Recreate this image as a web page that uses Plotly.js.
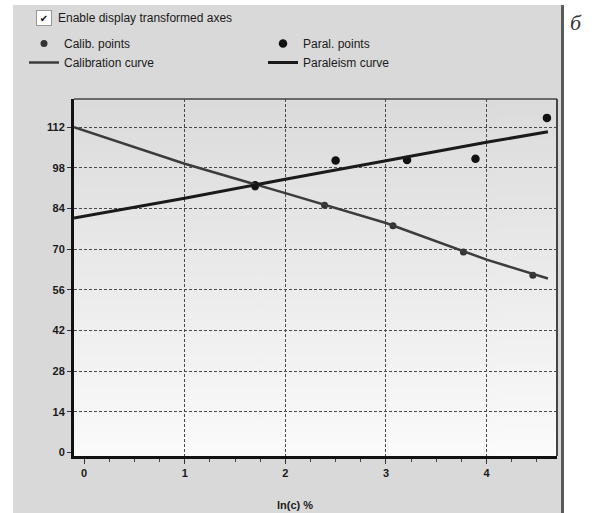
<!DOCTYPE html>
<html><head><meta charset="utf-8">
<script src="https://cdn.plot.ly/plotly-3.0.1.min.js"></script>
<style>html,body{margin:0;padding:0;background:#fff}#chart{width:604px;height:513px}</style>
</head><body><div id="chart"></div>
<script>
// ---- data ----
const calibX = [1.70, 2.39, 3.07, 3.77, 4.46];
const calibY = [91.4, 85.1, 78.1, 69.0, 61.0];
const paralX = [1.70, 2.50, 3.21, 3.89, 4.60];
const paralY = [92.0, 100.5, 100.7, 101.1, 115.2];
const calibCurveX = [-0.1, 1, 2, 3, 4, 4.61];
const calibCurveY = [112, 99.4, 89.3, 79.0, 66.4, 59.9];
const paralCurveX = [-0.1, 1, 2, 3, 4, 4.61];
const paralCurveY = [80.7, 87.5, 94.1, 100.5, 106.8, 110.4];
const xTicks = [0, 1, 2, 3, 4];
const yTicks = [0, 14, 28, 42, 56, 70, 84, 98, 112];
const xGrid = [1, 2, 3, 4];
const yGrid = [14, 28, 42, 56, 70, 84, 98, 112];
const seriesNames = ['Calib. points', 'Paral. points', 'Calibration curve', 'Paraleism curve'];
const checkboxLabel = 'Enable display transformed axes';
const xTitle = 'ln(c) %';
const panelLetter = 'б';

// gradient for plot background
const cv = document.createElement('canvas');
cv.width = 4; cv.height = 256;
const ctx = cv.getContext('2d');
const grad = ctx.createLinearGradient(0, 0, 0, 256);
grad.addColorStop(0, '#dbdbdb');
grad.addColorStop(1, '#fbfbfb');
ctx.fillStyle = grad; ctx.fillRect(0, 0, 4, 256);
const gradSrc = cv.toDataURL();

const F = 'Liberation Sans, Arial, sans-serif';
const PL = 74, PR = 557, PT = 99, PB = 456, W = 604, H = 513;
const pw = PR - PL, ph = PB - PT;
const px = v => (v - PL) / pw;
const py = v => (PB - v) / ph;

const traces = [
  {x: calibX, y: calibY, mode: 'markers', name: seriesNames[0], type: 'scatter',
   marker: {color: '#333', size: 7}},
  {x: paralX, y: paralY, mode: 'markers', name: seriesNames[1], type: 'scatter',
   marker: {color: '#111', size: 8.5}},
  {x: calibCurveX, y: calibCurveY, mode: 'lines', name: seriesNames[2], type: 'scatter',
   line: {color: '#3c3c3c', width: 2.5}},
  {x: paralCurveX, y: paralCurveY, mode: 'lines', name: seriesNames[3], type: 'scatter',
   line: {color: '#1a1a1a', width: 3}},
  {x: [], y: [], xaxis: 'x2', yaxis: 'y2', showlegend: false, hoverinfo: 'skip', type: 'scatter'}
];

const layout = {
  width: W, height: H,
  margin: {l: PL, r: W - PR, t: PT, b: H - PB, pad: 0},
  paper_bgcolor: '#d9d9d9',
  plot_bgcolor: 'rgba(0,0,0,0)',
  showlegend: true,
  legend: {orientation: 'h', x: px(24), xanchor: 'left', y: py(29), yanchor: 'top',
    entrywidth: 194, bgcolor: 'rgba(0,0,0,0)', traceorder: 'normal',
    font: {family: F, size: 12, color: '#1a1a1a'}},
  xaxis: {range: [-0.1, 4.70], tickvals: xTicks, ticktext: xTicks.map(String),
    showgrid: false, zeroline: false, showline: true, linecolor: '#111', linewidth: 3,
    ticks: 'outside', ticklen: 5, tickwidth: 1, tickcolor: '#333',
    minor: {dtick: 0.25, tick0: 0, ticks: 'outside', ticklen: 3, tickcolor: '#444', showgrid: false},
    tickfont: {family: F, size: 11, color: '#1a1a1a', weight: 700}},
  yaxis: {range: [-1.2, 121.7], tickvals: yTicks, ticktext: yTicks.map(String),
    showgrid: false, zeroline: false, showline: true, linecolor: '#111', linewidth: 3,
    ticks: 'outside', ticklen: 4, tickwidth: 1, tickcolor: '#333',
    tickfont: {family: F, size: 11, color: '#1a1a1a', weight: 700}},
  xaxis2: {overlaying: 'x', anchor: 'y2', range: [-0.1, 4.70], tickvals: xGrid,
    showgrid: true, gridcolor: '#4a4a4a', gridwidth: 1, griddash: '3px,2px',
    showticklabels: false, ticks: '', showline: false, zeroline: false},
  yaxis2: {overlaying: 'y', anchor: 'x2', range: [-1.2, 121.7], tickvals: yGrid,
    showgrid: true, gridcolor: '#4a4a4a', gridwidth: 1, griddash: '3px,2px',
    showticklabels: false, ticks: '', showline: false, zeroline: false},
  images: [{source: gradSrc, xref: 'paper', yref: 'paper', x: 0, y: 1, sizex: 1, sizey: 1,
    sizing: 'stretch', xanchor: 'left', yanchor: 'top', layer: 'below'}],
  shapes: [
    {type: 'rect', xref: 'paper', yref: 'paper', x0: px(-5), x1: px(13), y0: py(520), y1: py(-5), fillcolor: '#fff', line: {width: 0}, layer: 'below'},
    {type: 'rect', xref: 'paper', yref: 'paper', x0: px(-5), x1: px(610), y0: py(5), y1: py(-5), fillcolor: '#fff', line: {width: 0}, layer: 'below'},
    {type: 'rect', xref: 'paper', yref: 'paper', x0: px(562), x1: px(610), y0: py(520), y1: py(-5), fillcolor: '#fff', line: {width: 0}, layer: 'below'},
    {type: 'line', xref: 'paper', yref: 'paper', x0: px(562.5), x1: px(562.5), y0: py(515), y1: py(5), line: {color: '#5a5a5a', width: 3}, layer: 'below'},
    {type: 'line', xref: 'paper', yref: 'paper', x0: 0, x1: 1, y0: 1, y1: 1, line: {color: '#444', width: 1.5}},
    {type: 'line', xref: 'paper', yref: 'paper', x0: 1, x1: 1, y0: 0, y1: 1, line: {color: '#444', width: 2}}
  ],
  annotations: [
    {xref: 'paper', yref: 'paper', x: px(43.5), y: py(18), text: '✔', showarrow: false,
     font: {family: 'DejaVu Sans', size: 10, color: '#111'}, bgcolor: '#fff', bordercolor: '#999',
     borderwidth: 1, width: 12, height: 12, xanchor: 'center', yanchor: 'middle'},
    {xref: 'paper', yref: 'paper', x: px(56), y: py(18), text: checkboxLabel, showarrow: false,
     xanchor: 'left', yanchor: 'middle', font: {family: F, size: 12, color: '#1a1a1a'}},
    {xref: 'paper', yref: 'paper', x: px(576), y: py(22), text: '<i>' + panelLetter + '</i>', showarrow: false,
     xanchor: 'center', yanchor: 'middle', font: {family: 'Liberation Serif, serif', size: 22, color: '#333'}},
    {xref: 'paper', yref: 'paper', x: px(295), y: py(505), text: xTitle, showarrow: false,
     xanchor: 'center', yanchor: 'middle', font: {family: F, size: 11, color: '#1a1a1a', weight: 700}}
  ]
};

Plotly.newPlot('chart', traces, layout, {displayModeBar: false, staticPlot: true});
</script>
</body></html>
